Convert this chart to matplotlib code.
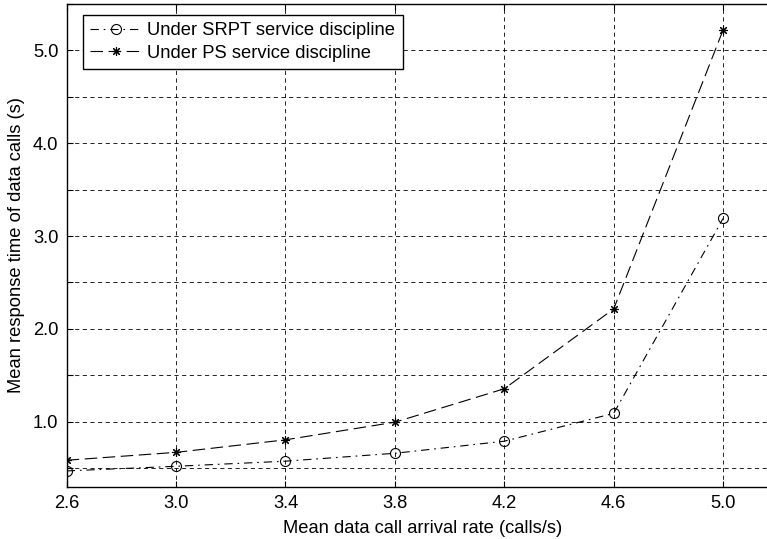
import matplotlib
matplotlib.use("Agg")
import matplotlib.pyplot as plt
import numpy as np

plt.rcParams['font.family'] = ['Liberation Sans', 'DejaVu Sans']
plt.rcParams['lines.scale_dashes'] = False

# Mean data call arrival rate (calls/s)
arrival_rate = [2.6, 3.0, 3.4, 3.8, 4.2, 4.6, 5.0]
# Mean response time of data calls (s)
srpt_response = [0.47, 0.52, 0.575, 0.66, 0.79, 1.09, 3.19]
ps_response = [0.585, 0.67, 0.805, 0.995, 1.355, 2.215, 5.22]

x_ticks = [2.6, 3.0, 3.4, 3.8, 4.2, 4.6, 5.0, 5.2]
x_tick_labels = ['2.6', '3.0', '3.4', '3.8', '4.2', '4.6', '5.0', '']
y_ticks = [0.5, 1.0, 1.5, 2.0, 2.5, 3.0, 3.5, 4.0, 4.5, 5.0, 5.5]
y_tick_labels = ['', '1.0', '', '2.0', '', '3.0', '', '4.0', '', '5.0', '']

W, H = 767, 539
fig = plt.figure(figsize=(W / 100, H / 100), dpi=100)
ax_left, ax_right_px, ax_top_px, ax_bottom_px = 66.7, 777.8, 4.0, 486.7
ax = fig.add_axes([ax_left / W, 1 - ax_bottom_px / H,
                   (ax_right_px - ax_left) / W, (ax_bottom_px - ax_top_px) / H])

fs = 13.2
ax.plot(arrival_rate, srpt_response, color='black', linewidth=0.8,
        linestyle=(0, (6, 3.5, 1.2, 3.5)), marker='o', markersize=7.2,
        markerfacecolor='none', markeredgecolor='black', markeredgewidth=0.8,
        label='Under SRPT service discipline')
ax.plot(arrival_rate, ps_response, color='black', linewidth=0.8,
        linestyle=(0, (9, 4)), marker=(8, 2, 0), markersize=6.5,
        markerfacecolor='black', markeredgecolor='black', markeredgewidth=0.8,
        label='Under PS service discipline')

ax.set_xlim(2.6, 5.2)
ax.set_ylim(0.3, 5.5)
ax.set_xticks(x_ticks)
ax.set_xticklabels(x_tick_labels, fontsize=fs)
ax.set_yticks(y_ticks)
ax.set_yticklabels(y_tick_labels, fontsize=fs)
ax.tick_params(direction='in', length=4, width=0.8, top=True, right=True,
               pad=6, colors='black')

ax.grid(True, color='black', linestyle=(0, (3, 2.5)), linewidth=0.6)
for sp in ax.spines.values():
    sp.set_linewidth(1.0)
    sp.set_color('black')

ax.set_xlabel('Mean data call arrival rate (calls/s)', fontsize=fs, labelpad=6)
ax.set_ylabel('Mean response time of data calls (s)', fontsize=fs, labelpad=6)

leg = ax.legend(loc='upper left', bbox_to_anchor=(82.7 / W, 1 - 14.7 / H),
                bbox_transform=fig.transFigure, borderaxespad=0,
                fontsize=fs, fancybox=False, framealpha=1, edgecolor='black',
                handlelength=2.8, handletextpad=0.33, borderpad=0.4,
                labelspacing=0.3)
leg.get_frame().set_linewidth(1.0)

fig.savefig('out.png', dpi=100)
